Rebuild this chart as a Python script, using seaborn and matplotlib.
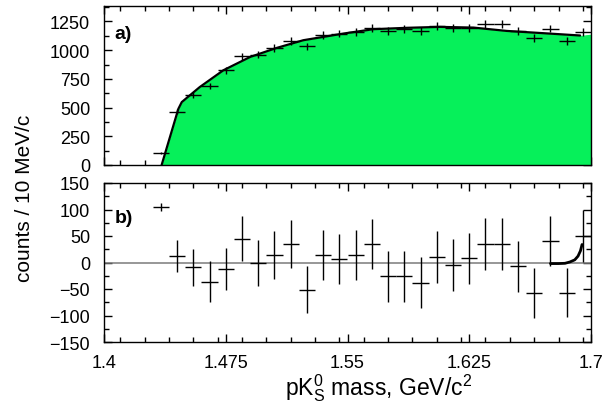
import matplotlib
matplotlib.use("Agg")
import matplotlib.pyplot as plt
from matplotlib.ticker import FixedLocator, MultipleLocator, NullFormatter, FixedFormatter
import seaborn as sns
import pandas as pd

# bin centres (10 MeV bins)
mass = [1.435, 1.445, 1.455, 1.465, 1.475, 1.485, 1.495, 1.505, 1.515,
        1.525, 1.535, 1.545, 1.555, 1.565, 1.575, 1.585, 1.595, 1.605,
        1.615, 1.625, 1.635, 1.645, 1.655, 1.665, 1.675, 1.685, 1.695]

# a) event counts per bin and their errors
counts = [105, 466, 612, 688, 825, 947, 962, 1020, 1078,
          1034, 1130, 1145, 1160, 1195, 1165, 1183, 1165, 1212,
          1195, 1195, 1227, 1227, 1168, 1107, 1189, 1081, 1160]
count_err = [10, 22, 25, 26, 29, 31, 31, 32, 33,
             32, 34, 34, 34, 35, 34, 34, 34, 35,
             35, 35, 35, 35, 34, 33, 34, 33, 34]

# background fit curve
fit_mass = [1.4355, 1.4458, 1.4479, 1.459, 1.4735, 1.490, 1.5064, 1.5228,
            1.5475, 1.566, 1.5865, 1.607, 1.6276, 1.648, 1.6686, 1.6933]
fit_counts = [0, 489, 548, 679, 825, 941, 1020, 1087,
              1145, 1183, 1195, 1203, 1197, 1168, 1150, 1128]
fill_edge_mass = [1.7]
fill_edge_counts = [1140]

# b) residuals (data - fit) and their errors
resid = [105, 13, -9, -36, -12, 45, -1, 14, 35,
         -51, 14, 6, 14, 35, -26, -26, -38, 11,
         -5, 8, 35, 35, -7, -57, 40, -57, 50]
resid_err = [8, 30, 35, 38, 40, 42, 43, 45, 46,
             45, 47, 47, 47, 48, 48, 48, 48, 49,
             49, 48, 49, 49, 48, 47, 47, 46, 49]

# signal shape near the upper edge of the residual plot
sig_mass = [1.675, 1.680, 1.684, 1.687, 1.690, 1.692, 1.6935, 1.6945]
sig_resid = [-2, -2, -1.5, 1, 5, 12, 22, 34]

x_ticks = [1.4, 1.475, 1.55, 1.625, 1.7]
x_tick_labels = ["1.4", "1.475", "1.55", "1.625", "1.7"]
top_yticks = [0, 250, 500, 750, 1000, 1250]
bot_yticks = [-150, -100, -50, 0, 50, 100, 150]

sns.set_style("ticks")
plt.rcParams["font.family"] = ["Liberation Sans", "DejaVu Sans"]
plt.rcParams["mathtext.fontset"] = "custom"
plt.rcParams["mathtext.rm"] = "Liberation Sans"
plt.rcParams["mathtext.it"] = "Liberation Sans"
for key in ("text.color", "axes.labelcolor", "xtick.color", "ytick.color",
            "axes.edgecolor"):
    plt.rcParams[key] = "black"

W, H = 605, 406
fig = plt.figure(figsize=(W / 100, H / 100), dpi=100)
ax_top = fig.add_axes([104 / W, 1 - 166 / H, 487 / W, 159 / H])
ax_bot = fig.add_axes([104 / W, 1 - 343 / H, 487 / W, 159 / H])

df = pd.DataFrame({"mass": mass, "counts": counts, "count_err": count_err,
                   "resid": resid, "resid_err": resid_err})
fit_df = pd.DataFrame({"mass": fit_mass, "counts": fit_counts})
half_bin = 0.005
green = "#06f05a"

# --- top panel ---
fill_x = fit_mass + fill_edge_mass
fill_y = fit_counts + fill_edge_counts
ax_top.fill_between(fill_x, 0, fill_y, color=green, lw=0, zorder=1)
sns.lineplot(data=fit_df, x="mass", y="counts", ax=ax_top, color="black",
             lw=1.6, sort=False, estimator=None, zorder=3)
ax_top.errorbar(df["mass"], df["counts"], yerr=df["count_err"], xerr=half_bin,
                fmt="none", ecolor="black", elinewidth=1.0, capsize=0, zorder=4)
ax_top.set_ylim(0, 1385)
ax_top.yaxis.set_major_locator(FixedLocator(top_yticks))
ax_top.yaxis.set_minor_locator(MultipleLocator(125))
ax_top.text(0.022, 0.83, "a)", transform=ax_top.transAxes, fontsize=14,
            fontweight="bold", va="center", ha="left")

# --- bottom panel ---
ax_bot.axhline(0, color="#7a7a7a", lw=1.1, zorder=1)
ax_bot.errorbar(df["mass"], df["resid"], yerr=df["resid_err"], xerr=half_bin,
                fmt="none", ecolor="black", elinewidth=1.0, capsize=0, zorder=3)
sns.lineplot(x=sig_mass, y=sig_resid, ax=ax_bot, color="black", lw=2.0,
             sort=False, estimator=None, zorder=4)
ax_bot.set_ylim(-150, 150)
ax_bot.yaxis.set_major_locator(FixedLocator(bot_yticks))
ax_bot.yaxis.set_minor_locator(MultipleLocator(25))
ax_bot.text(0.022, 0.78, "b)", transform=ax_bot.transAxes, fontsize=14,
            fontweight="bold", va="center", ha="left")

for ax in (ax_top, ax_bot):
    ax.set_xlim(1.4, 1.7)
    ax.xaxis.set_major_locator(FixedLocator(x_ticks))
    ax.xaxis.set_minor_locator(MultipleLocator(0.015))
    ax.tick_params(which="both", direction="in", top=True, right=True,
                   color="black", width=1.0)
    ax.tick_params(which="major", length=6, labelsize=13, pad=9)
    ax.tick_params(which="minor", length=3.5)
    ax.set_xlabel("")
    ax.set_ylabel("")
    for sp in ax.spines.values():
        sp.set_visible(True)
        sp.set_linewidth(1.0)
        sp.set_color("black")

ax_top.xaxis.set_major_formatter(NullFormatter())
ax_bot.xaxis.set_major_formatter(FixedFormatter(x_tick_labels))
ax_top.tick_params(axis="y", pad=10)
ax_bot.tick_params(axis="y", pad=10)

fig.text(25 / W, 1 - 198 / H, "counts / 10 MeV/c", rotation=90,
         ha="center", va="center", fontsize=15)
fig.text(379 / W, 1 - 388 / H, r"pK$^0_S$ mass, GeV/c$^2$",
         ha="center", va="center", fontsize=16.5)

fig.savefig("out.png", dpi=100)
